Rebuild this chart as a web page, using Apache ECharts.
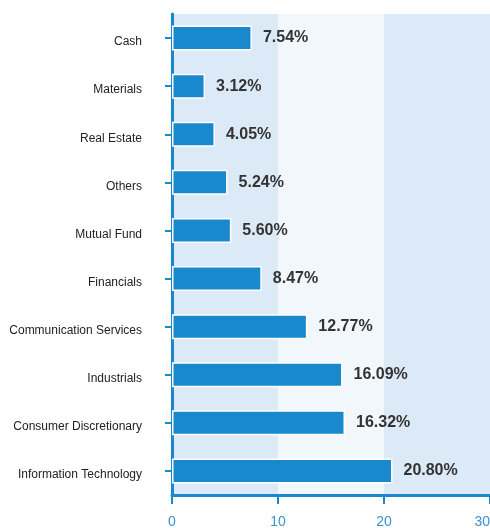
<!DOCTYPE html>
<html><head><meta charset="utf-8">
<script src="https://cdn.jsdelivr.net/npm/echarts@6/dist/echarts.min.js"></script>
<style>html,body{margin:0;padding:0;background:#fff}#c{width:490px;height:528px}</style>
</head><body><div id="c"></div>
<script>
var categories = ["Information Technology","Consumer Discretionary","Industrials","Communication Services","Financials","Mutual Fund","Others","Real Estate","Materials","Cash"];
var values = [20.80,16.32,16.09,12.77,8.47,5.60,5.24,4.05,3.12,7.54];
var xTicks = [0,10,20,30];
var chart = echarts.init(document.getElementById('c'));
chart.setOption({
  animation:false,
  grid:{left:172,right:0,top:14,bottom:33,containLabel:false,outerBoundsMode:'none'},
  xAxis:{type:'value',min:xTicks[0],max:xTicks[xTicks.length-1],interval:10,
    axisLine:{show:true,lineStyle:{color:'#1a88cc',width:3}},
    axisTick:{show:true,length:9,lineStyle:{color:'#1a88cc',width:2}},
    axisLabel:{color:'#3a93d0',fontSize:14,margin:20,alignMaxLabel:'right',fontFamily:'Liberation Sans, Arial, sans-serif'},
    splitLine:{show:false},
    splitArea:{show:true,areaStyle:{color:['#dbeaf6','#f2f7fc']}}},
  yAxis:{type:'category',data:categories,
    axisLine:{show:true,lineStyle:{color:'#1a88cc',width:3}},
    axisTick:{show:true,alignWithLabel:true,length:7,lineStyle:{color:'#1a88cc',width:2}},
    axisLabel:{color:'#222',fontSize:12,margin:30,verticalAlign:'top',lineHeight:8,fontFamily:'Liberation Sans, Arial, sans-serif'}},
  series:[{type:'bar',data:values,barWidth:'52%',
    itemStyle:{color:'#1a88cc',borderColor:'#fff',borderWidth:1.5},
    label:{show:true,position:'right',distance:11,formatter:function(p){return p.value.toFixed(2)+'%';},
      color:'#333',fontSize:16,fontWeight:'bold',fontFamily:'Liberation Sans, Arial, sans-serif'}}]
});
</script></body></html>
